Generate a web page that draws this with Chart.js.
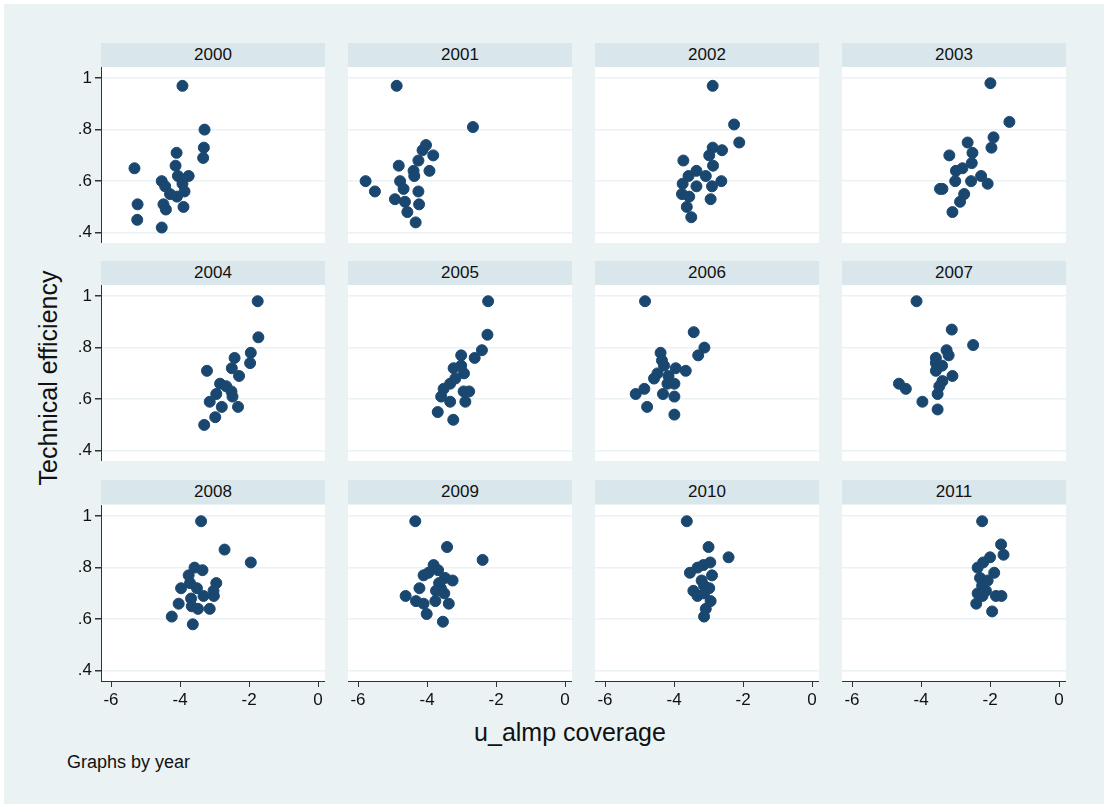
<!DOCTYPE html>
<html>
<head>
<meta charset="utf-8">
<script src="https://cdn.jsdelivr.net/npm/chart.js@4.4.0/dist/chart.umd.min.js"></script>
<style>
  body { margin: 0; background: #fff; font-family: "Liberation Sans", Arial, sans-serif; }
  #frame { position: absolute; left: 4px; top: 4px; width: 1100px; height: 800px; background: #eaf2f3; }
  .strip { position: absolute; height: 24px; background: #d9e6eb; font-size: 17px; text-align: center; line-height: 24px; color: #111; }
  .box { position: absolute; }
  canvas { display: block; }
  .txt { position: absolute; color: #111; }
</style>
</head>
<body>
<div id="frame"></div>
<div class="txt" style="left:48px;top:378px;transform:translate(-50%,-50%) rotate(-90deg);font-size:25px;white-space:nowrap;">Technical efficiency</div>
<div class="txt" style="left:570px;top:732px;transform:translate(-50%,-50%);font-size:25px;white-space:nowrap;">u_almp coverage</div>
<div class="txt" style="left:67px;top:752px;font-size:18px;">Graphs by year</div>
<script>
// ==========================================
// DATA
// ==========================================
const years = ["2000","2001","2002","2003","2004","2005","2006","2007","2008","2009","2010","2011"];

const x2000 = [-3.93,-3.29,-3.31,-3.33,-4.10,-4.13,-4.06,-3.75,-5.32,-4.53,-4.43,-4.29,-4.09,-3.93,-3.87,-4.48,-4.41,-3.90,-5.23,-5.24,-4.53];
const y2000 = [.97,.80,.73,.69,.71,.66,.62,.62,.65,.60,.58,.55,.54,.59,.56,.51,.49,.50,.51,.45,.42];
const x2001 = [-4.88,-2.67,-4.03,-4.13,-3.82,-4.25,-4.82,-4.39,-4.37,-3.93,-5.78,-5.51,-4.78,-4.68,-4.93,-4.64,-4.25,-4.23,-4.57,-4.33];
const y2001 = [.97,.81,.74,.72,.70,.68,.66,.64,.62,.64,.60,.56,.60,.57,.53,.52,.56,.51,.48,.44];
const x2002 = [-2.88,-2.26,-2.11,-2.88,-2.61,-3.73,-2.98,-2.87,-3.08,-3.35,-3.58,-3.75,-3.77,-3.56,-3.35,-2.90,-2.63,-2.94,-3.63,-3.50];
const y2002 = [.97,.82,.75,.73,.72,.68,.70,.66,.62,.64,.62,.59,.55,.54,.58,.58,.60,.53,.50,.46];
const x2003 = [-1.99,-1.44,-1.90,-1.96,-2.65,-2.51,-2.53,-3.18,-2.80,-2.99,-3.01,-2.55,-2.26,-2.07,-3.38,-3.45,-2.75,-2.87,-3.09];
const y2003 = [.98,.83,.77,.73,.75,.71,.67,.70,.65,.64,.60,.60,.62,.59,.57,.57,.55,.52,.48];
const x2004 = [-1.75,-1.73,-1.95,-1.97,-2.42,-2.50,-2.29,-3.22,-2.84,-2.66,-2.51,-2.95,-2.48,-3.14,-2.79,-2.32,-2.98,-3.30];
const y2004 = [.98,.84,.78,.74,.76,.72,.69,.71,.66,.65,.63,.62,.61,.59,.57,.57,.53,.50];
const x2005 = [-2.23,-2.25,-2.41,-2.62,-3.01,-3.01,-3.23,-2.93,-3.18,-3.33,-3.52,-3.59,-3.33,-2.94,-2.78,-2.89,-3.69,-3.24];
const y2005 = [.98,.85,.79,.76,.77,.73,.72,.70,.68,.66,.64,.61,.59,.63,.63,.59,.55,.52];
const x2006 = [-4.84,-3.43,-3.12,-3.30,-4.39,-4.35,-4.29,-3.95,-3.66,-4.48,-4.58,-4.16,-4.19,-3.99,-3.99,-4.32,-4.86,-5.11,-4.78,-3.99];
const y2006 = [.98,.86,.80,.77,.78,.75,.73,.72,.71,.70,.68,.69,.66,.66,.61,.62,.64,.62,.57,.54];
const x2007 = [-4.13,-3.11,-2.49,-3.26,-3.20,-3.57,-3.57,-3.39,-3.57,-3.09,-3.38,-3.47,-3.52,-4.64,-4.44,-3.96,-3.52];
const y2007 = [.98,.87,.81,.79,.77,.76,.74,.73,.71,.69,.67,.65,.62,.66,.64,.59,.56];
const x2008 = [-3.39,-2.71,-1.95,-3.58,-3.35,-3.75,-3.71,-2.95,-3.97,-3.51,-3.03,-3.02,-3.68,-3.32,-3.66,-3.48,-3.14,-4.04,-4.24,-3.63];
const y2008 = [.98,.87,.82,.80,.79,.77,.74,.74,.72,.72,.71,.69,.68,.69,.65,.64,.64,.66,.61,.58];
const x2009 = [-4.34,-3.42,-2.39,-3.81,-3.68,-3.96,-4.10,-3.48,-3.26,-3.65,-4.22,-3.60,-3.74,-3.50,-4.62,-3.76,-3.37,-4.32,-4.10,-4.01,-3.54];
const y2009 = [.98,.88,.83,.81,.79,.78,.77,.76,.75,.74,.72,.72,.71,.70,.69,.67,.66,.67,.66,.62,.59];
const x2010 = [-3.63,-3.00,-2.42,-2.95,-3.15,-3.32,-3.54,-2.90,-3.20,-2.98,-3.13,-3.44,-3.32,-3.13,-2.94,-3.08,-3.13];
const y2010 = [.98,.88,.84,.82,.81,.80,.78,.77,.75,.72,.73,.71,.69,.70,.67,.64,.61];
const x2011 = [-2.23,-1.68,-1.61,-2.00,-2.20,-2.36,-2.29,-1.88,-2.07,-2.23,-2.12,-2.36,-2.22,-1.83,-1.67,-2.40,-1.94];
const y2011 = [.98,.89,.85,.84,.82,.80,.76,.78,.75,.73,.71,.70,.69,.69,.69,.66,.63];

const xs = [x2000,x2001,x2002,x2003,x2004,x2005,x2006,x2007,x2008,x2009,x2010,x2011];
const ys = [y2000,y2001,y2002,y2003,y2004,y2005,y2006,y2007,y2008,y2009,y2010,y2011];

// ==========================================
// LAYOUT
// ==========================================
const colLeft = [101, 348, 595, 842];
const plotW = 224;
const stripTop = [43, 261, 480];
const plotTop = [67, 285, 505];
const plotH = 176;
const axisW = 40, axisH = 36;

const fmtY = v => (Math.abs(v - 1) < 1e-9 ? "1" : "." + Math.round(v * 10));

years.forEach((yr, i) => {
  const row = Math.floor(i / 4), col = i % 4;
  const left = col === 0, bottom = row === 2;

  const strip = document.createElement('div');
  strip.className = 'strip';
  strip.style.left = colLeft[col] + 'px';
  strip.style.top = stripTop[row] + 'px';
  strip.style.width = plotW + 'px';
  strip.textContent = yr;
  document.body.appendChild(strip);

  const bg = document.createElement('div');
  bg.className = 'box';
  bg.style.cssText = `left:${colLeft[col]}px;top:${plotTop[row]}px;width:${plotW}px;height:${plotH}px;background:#fff;`;
  document.body.appendChild(bg);

  const w = plotW + (left ? axisW : 0);
  const h = plotH + (bottom ? axisH : 0);
  const box = document.createElement('div');
  box.className = 'box';
  box.style.cssText = `left:${colLeft[col] - (left ? axisW : 0)}px;top:${plotTop[row]}px;width:${w}px;height:${h}px;`;
  const cv = document.createElement('canvas');
  cv.width = w;
  cv.height = h;
  cv.style.width = w + 'px';
  cv.style.height = h + 'px';
  box.appendChild(cv);
  document.body.appendChild(box);

  new Chart(cv, {
    type: 'scatter',
    data: {
      datasets: [{
        data: xs[i].map((x, k) => ({ x: x, y: ys[i][k] })),
        backgroundColor: '#1a476f',
        borderColor: '#1a476f',
        pointRadius: 5.5,
        pointHoverRadius: 5.5
      }]
    },
    options: {
      responsive: false,
      animation: false,
      layout: { padding: 0, autoPadding: false },
      plugins: { legend: { display: false }, tooltip: { enabled: false } },
      scales: {
        x: {
          type: 'linear', min: -6.29, max: 0.2,
          display: bottom,
          afterFit: s => { s.height = bottom ? axisH : 0; s.paddingLeft = 0; s.paddingRight = 0; },
          grid: { drawOnChartArea: false, tickLength: 6, color: '#333' },
          border: { color: '#333' },
          ticks: { stepSize: 2, includeBounds: false, maxRotation: 0, color: '#111', font: { size: 17, family: 'Liberation Sans' }, padding: 3 }
        },
        y: {
          type: 'linear', min: 0.36, max: 1.043,
          display: true,
          afterFit: s => { s.width = left ? axisW : 0; s.paddingTop = 0; s.paddingBottom = 0; },
          grid: { color: '#eaf2f3', lineWidth: 1.5, tickLength: left ? 6 : 0, tickColor: '#333' },
          border: { display: left, color: '#333' },
          ticks: { stepSize: 0.2, includeBounds: false, display: left, color: '#111', font: { size: 17, family: 'Liberation Sans' }, padding: 3, callback: fmtY }
        }
      }
    }
  });
});
</script>
</body>
</html>
